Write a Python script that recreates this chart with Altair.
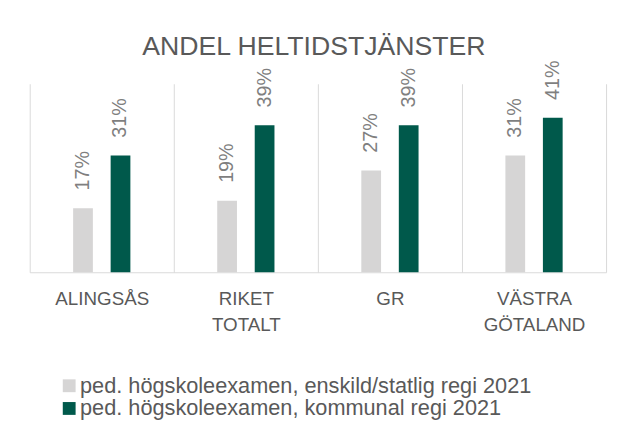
import altair as alt
import pandas as pd

categories = ["ALINGSÅS", "RIKET TOTALT", "GR", "VÄSTRA GÖTALAND"]
series = [
    "ped. högskoleexamen, enskild/statlig regi 2021",
    "ped. högskoleexamen, kommunal regi 2021",
]
enskild = [0.17, 0.19, 0.27, 0.31]
kommunal = [0.31, 0.39, 0.39, 0.41]
colors = ["#d6d5d5", "#00594b"]

rows = []
for c, a, b in zip(categories, enskild, kommunal):
    rows.append({"cat": c, "series": series[0], "val": a})
    rows.append({"cat": c, "series": series[1], "val": b})
df = pd.DataFrame(rows)

FONT = "Liberation Sans"

base = alt.Chart(df).encode(
    x=alt.X(
        "cat:N",
        sort=categories,
        scale=alt.Scale(paddingInner=0, paddingOuter=0),
        axis=alt.Axis(
            title=None,
            tickBand="extent",
            grid=True,
            gridColor="#d9d9d9",
            gridWidth=1,
            ticks=False,
            domainColor="#d9d9d9",
            domainWidth=1,
            labelAngle=0,
            labelFont=FONT,
            labelFontSize=19,
            labelColor="#595959",
            labelExpr="split(datum.label, ' ')",
            labelLineHeight=26,
            labelPadding=18,
            labelBaseline="top",
        ),
    ),
    xOffset=alt.XOffset(
        "series:N",
        sort=series,
        scale=alt.Scale(paddingInner=0.158, paddingOuter=1.0),
    ),
    y=alt.Y("val:Q", scale=alt.Scale(domain=[0, 0.5]), axis=None),
)

bars = base.mark_bar(width=20).encode(
    color=alt.Color(
        "series:N",
        sort=series,
        scale=alt.Scale(domain=series, range=colors),
        legend=alt.Legend(
            orient="none",
            legendX=29,
            legendY=295,
            direction="vertical",
            title=None,
            symbolType="square",
            symbolSize=169,
            symbolStrokeWidth=0,
            labelFont=FONT,
            labelFontSize=22,
            labelColor="#595959",
            labelOffset=0,
            rowPadding=1,
            labelLimit=0,
        ),
    )
)

labels = base.mark_text(
    angle=270,
    align="left",
    baseline="middle",
    dx=18,
    font=FONT,
    fontSize=20,
    color="#7f7f7f",
).encode(text=alt.Text("val:Q", format=".0%"))

chart = (
    alt.layer(bars, labels)
    .properties(
        width=584,
        height=191,
        autosize=alt.AutoSizeParams(type="none"),
        padding={"left": 22, "top": 74, "right": 5, "bottom": 153},
        title=alt.TitleParams(
            "ANDEL HELTIDSTJÄNSTER",
            font=FONT,
            fontSize=27,
            fontWeight="normal",
            color="#595959",
            anchor="middle",
            baseline="alphabetic",
            offset=-21,
            dx=-4,
        ),
    )
    .configure_view(stroke=None)
)

chart.save("out.html", embed_options={"renderer": "svg", "actions": False})
